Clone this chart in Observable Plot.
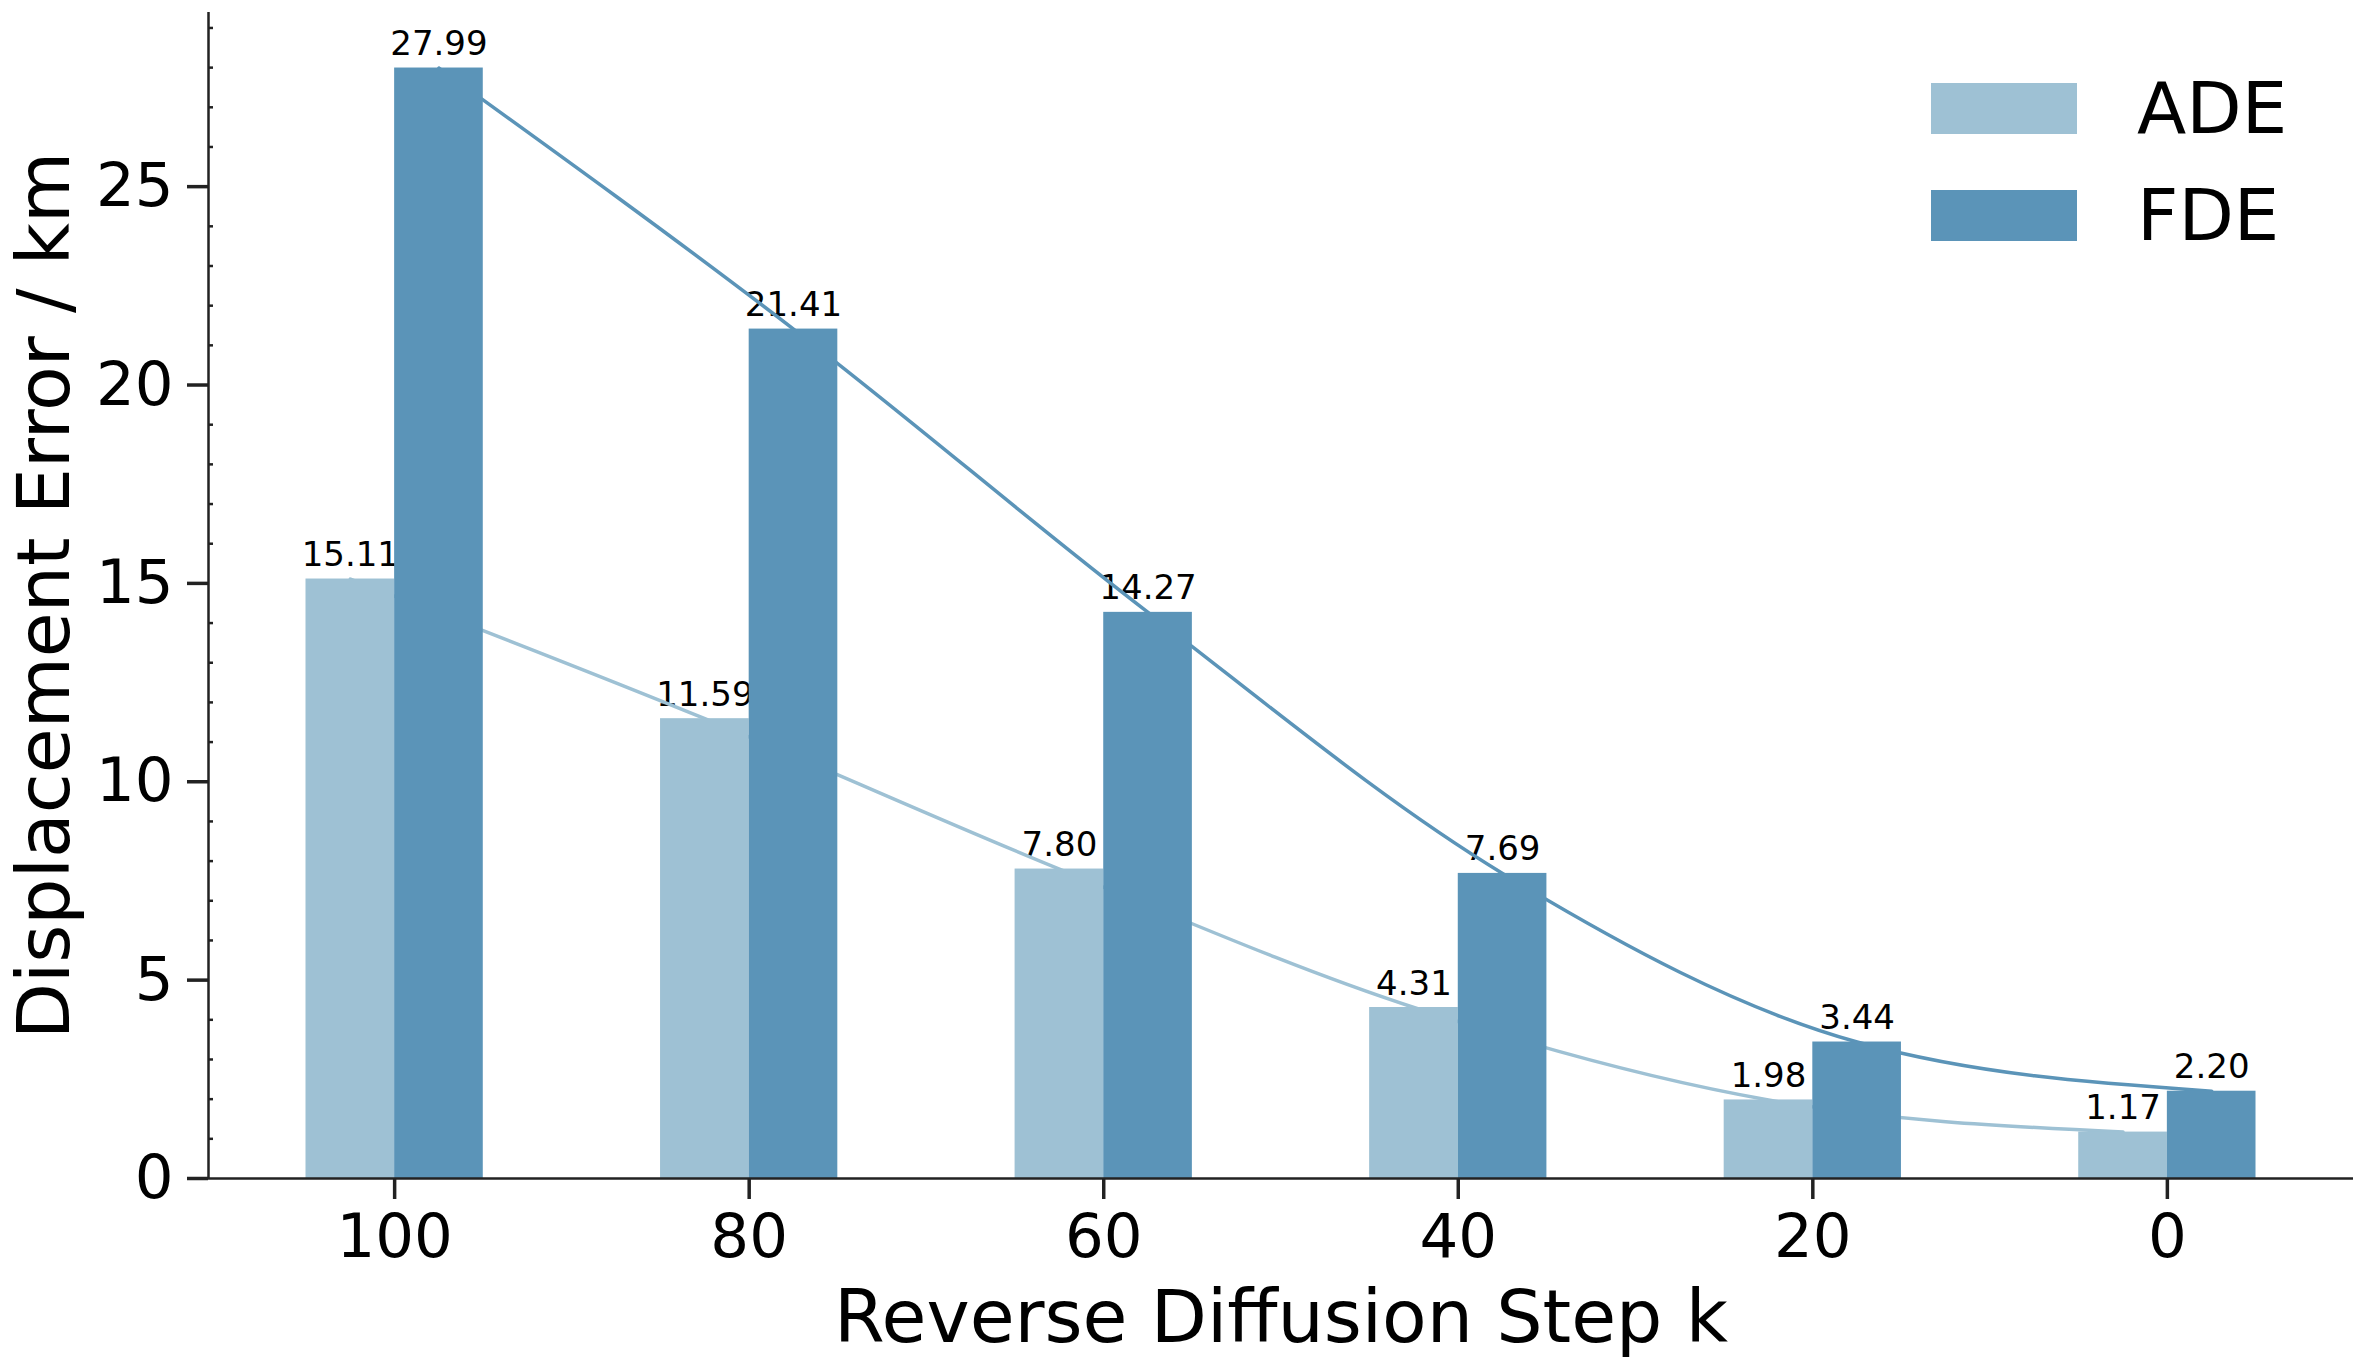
<!DOCTYPE html>
<html>
<head>
<meta charset="utf-8">
<script src="https://cdn.jsdelivr.net/npm/d3@7"></script>
<script src="https://cdn.jsdelivr.net/npm/@observablehq/plot@0.6"></script>
<style>
  html, body { margin: 0; padding: 0; background: #fff; }
  #wrap { position: relative; width: 2365px; height: 1368px; font-family: "DejaVu Sans", sans-serif; }
  .sw { position: absolute; width: 146px; height: 51px; }
  .lt { position: absolute; height: 51px; line-height: 51px; font-size: 72px; color: #000; white-space: nowrap; }
</style>
</head>
<body>
<div id="wrap"></div>
<script>
// ---- data ----
const steps = ["100", "80", "60", "40", "20", "0"];
const series = ["ADE", "FDE"];
const ade = [15.11, 11.59, 7.80, 4.31, 1.98, 1.17];
const fde = [27.99, 21.41, 14.27, 7.69, 3.44, 2.20];
const colors = ["#9ec1d4", "#5b94b8"];
const yTicks = [0, 5, 10, 15, 20, 25];
const xLabel = "Reverse Diffusion Step k";
const yLabel = "Displacement Error / km";

// ---- derived table ----
const barW = 0.25;
const values = [ade, fde];
const rows = [];
steps.forEach((s, i) => {
  series.forEach((name, k) => {
    const x1 = i + (k - 1) * barW;
    rows.push({i, step: s, series: name, value: values[k][i], x1, x2: x1 + barW, cx: x1 + barW / 2});
  });
});
const lo = -barW, hi = steps.length - 1 + barW;
const pad = 0.05 * (hi - lo);
const xlo = lo - pad, xhi = hi + pad;
const ymax = d3.max(rows, d => d.value) * 1.05;
const minorTicks = d3.range(0, Math.floor(ymax) + 1).filter(v => v % 5 !== 0);

const chart = Plot.plot({
  width: 2365,
  height: 1368,
  marginLeft: 208,
  marginRight: 12,
  marginTop: 12,
  marginBottom: 190,
  style: {fontFamily: "DejaVu Sans", background: "#fff", color: "#000"},
  x: {domain: [xlo, xhi]},
  y: {domain: [0, ymax]},
  color: {domain: series, range: colors},
  marks: [
    Plot.text(rows, {x: "cx", y: "value", text: d => d.value.toFixed(2), fontSize: 34, lineAnchor: "bottom", textAnchor: "middle", dy: -13, fill: "#000"}),
    Plot.line(rows, {x: "cx", y: "value", z: "series", stroke: "series", curve: "monotone-x", strokeWidth: 3.5}),
    Plot.rect(rows, {x1: "x1", x2: "x2", y1: 0, y2: "value", fill: "series"}),
    Plot.axisY({ticks: yTicks, tickSize: 21, tickPadding: 14, fontSize: 61, strokeWidth: 3.5, stroke: "#222", fill: "#000", label: null}),
    Plot.axisY({ticks: minorTicks, tickSize: 5, dx: 5, tickFormat: () => "", strokeWidth: 2.5, stroke: "#222", label: null}),
    Plot.axisX({ticks: steps.map((s, i) => i), tickFormat: i => steps[i], tickSize: 21, tickPadding: 14, fontSize: 61, strokeWidth: 3.5, stroke: "#222", fill: "#000", label: null}),
    Plot.ruleY([0], {stroke: "#222", strokeWidth: 2.5}),
    Plot.ruleX([xlo], {stroke: "#222", strokeWidth: 2.5}),
    Plot.text([yLabel], {text: d => d, frameAnchor: "left", rotate: -90, dx: -191, fontSize: 73, lineAnchor: "top", textAnchor: "middle", fill: "#000"}),
    Plot.text([xLabel], {text: d => d, frameAnchor: "bottom", dy: 163, fontSize: 73, lineAnchor: "bottom", textAnchor: "middle", fill: "#000"})
  ]
});

const wrap = document.getElementById("wrap");
wrap.appendChild(chart);

// ---- legend (HTML, overlaid in upper right) ----
series.forEach((name, k) => {
  const top = 83 + k * 107;
  const sw = document.createElement("div");
  sw.className = "sw";
  sw.style.left = "1931px";
  sw.style.top = top + "px";
  sw.style.background = colors[k];
  wrap.appendChild(sw);
  const lt = document.createElement("div");
  lt.className = "lt";
  lt.style.left = "2137px";
  lt.style.top = top + "px";
  lt.textContent = name;
  wrap.appendChild(lt);
});
</script>
</body>
</html>
